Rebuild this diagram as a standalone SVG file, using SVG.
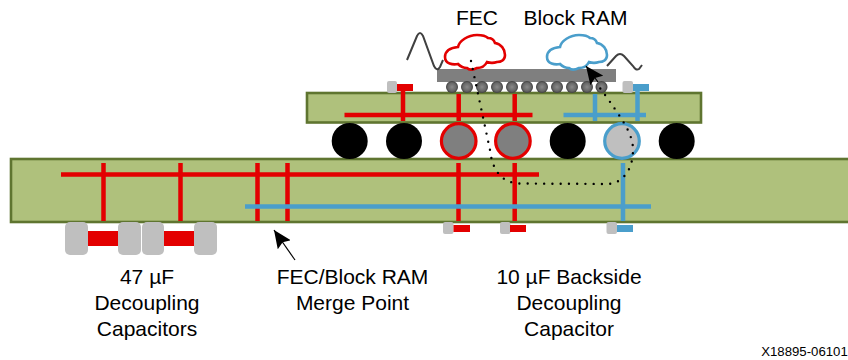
<svg xmlns="http://www.w3.org/2000/svg" width="848" height="360" viewBox="0 0 848 360">
<style>
text{font-family:"Liberation Sans",Arial,sans-serif;font-size:21px;fill:#000;text-anchor:middle}
.board{fill:#afc17c;stroke:#5f7530;stroke-width:2.600}
.ball{fill:url(#bg)}
.pad{fill:#bfbfbf}
.r{stroke:#e30000;stroke-width:4.500;fill:none}
.b{stroke:#4a9ecb;stroke-width:4.500;fill:none}
.rf{fill:#e30000}.bf{fill:#4a9ecb}
.wave{fill:none;stroke:#404040;stroke-width:2}
.cloud{fill:#fff;stroke-width:2.600}
.dot{fill:none;stroke:#000;stroke-width:2.400;stroke-linecap:round;stroke-dasharray:0 8.250}
</style>
<defs>
<radialGradient id="bg"><stop offset="0" stop-color="#8a8a8a"/><stop offset="0.7" stop-color="#666666"/><stop offset="1" stop-color="#3c3c3c"/></radialGradient>
<marker id="ah" markerUnits="userSpaceOnUse" markerWidth="19" markerHeight="16" refX="18" refY="8" orient="auto"><path d="M0 0L18 8L0 16L3 8Z" fill="#000"/></marker>
<path id="cl" d="M0 22C0 17 4 13 13 12C14 6 23 0 32 0C37 0 41 1 43 3C46 3 49 5 50 8C56 9 60 14 60 20C60 25 56 27 52 27C49 28 45 28 42 27C40 31 36 33 32 33C28 35 24 35 22 33C18 33 15 31 13 29C8 30 0 29 0 22Z"/>
</defs>
<g id="pcb-lower"><rect class="board" x="11" y="159" width="850" height="63"/></g>
<g id="pcb-upper"><rect class="board" x="307" y="93" width="394" height="29.500"/></g>
<g id="traces">
<path class="r" d="M344.500 115H532.500M403 90V121M458.700 94V121M514.700 94V121"/>
<path class="b" d="M563.500 115H646M595 94V121M637.500 90V121"/>
<path class="r" d="M61 174.500H539M103.500 163V221M180.500 163V221M257.500 163V221M287.500 163V221M458.500 163V221M514.700 163V221"/>
<path class="b" d="M245 206.500H651M623 163V221"/>
</g>
<g id="bga">
<circle cx="349.700" cy="141" r="18"/><circle cx="404" cy="141" r="18"/>
<circle cx="458.700" cy="141" r="17.300" fill="#7f7f7f" stroke="#e30000" stroke-width="3.200"/>
<circle cx="512.900" cy="141" r="17.300" fill="#7f7f7f" stroke="#e30000" stroke-width="3.200"/>
<circle cx="567.700" cy="141" r="18"/>
<circle cx="622" cy="141" r="17.300" fill="#bfbfbf" stroke="#4a9ecb" stroke-width="3.200"/>
<circle cx="676.700" cy="141" r="18"/>
</g>
<g id="chip">
<rect x="437" y="69" width="179" height="13" fill="#7f7f7f"/>
<circle class="ball" cx="452" cy="87" r="6"/><circle class="ball" cx="467" cy="87" r="6"/><circle class="ball" cx="482" cy="87" r="6"/><circle class="ball" cx="497" cy="87" r="6"/><circle class="ball" cx="512" cy="87" r="6"/><circle class="ball" cx="527" cy="87" r="6"/><circle class="ball" cx="542" cy="87" r="6"/><circle class="ball" cx="557" cy="87" r="6"/><circle class="ball" cx="572" cy="87" r="6"/><circle class="ball" cx="587" cy="87" r="6"/><circle class="ball" cx="601.500" cy="87" r="6"/>
</g>
<g id="fec">
<use href="#cl" x="445" y="35" class="cloud" stroke="#e30000"/>
<text x="477" y="25">FEC</text>
</g>
<g id="block-ram">
<use href="#cl" x="547" y="35" class="cloud" stroke="#4a9ecb"/>
<text x="575.500" y="25">Block RAM</text>
</g>
<g id="waves">
<path class="wave" d="M407 60L417 36Q420 30 423 36L434 66Q437 72 440 67L443 60"/>
<path class="wave" d="M607 66L616 56Q620 52 624 56L633 66Q636 71 639 69L642 65"/>
</g>
<g id="small-caps">
<rect class="pad" x="387" y="81" width="10" height="12" rx="2"/><rect class="rf" x="397" y="84" width="16" height="7"/>
<rect class="pad" x="622.500" y="81" width="10.500" height="12" rx="2"/><rect class="bf" x="633" y="84" width="16" height="7"/>
<rect class="pad" x="443" y="222" width="10.500" height="12" rx="2"/><rect class="rf" x="453.500" y="225" width="16.500" height="7"/>
<rect class="pad" x="500" y="222" width="10.500" height="12" rx="2"/><rect class="rf" x="510" y="225" width="16" height="7"/>
<rect class="pad" x="606.500" y="222" width="10.500" height="12" rx="2"/><rect class="bf" x="617" y="225" width="16" height="7"/>
</g>
<g id="decoupling-caps">
<rect class="rf" x="88" y="231" width="30" height="15"/><rect class="rf" x="164" y="231" width="30" height="15"/>
<rect class="pad" x="65" y="222" width="23" height="33" rx="5"/><rect class="pad" x="118" y="222" width="23" height="33" rx="5"/><rect class="pad" x="142" y="222" width="22" height="33" rx="5"/><rect class="pad" x="194" y="222" width="23" height="33" rx="5"/>
</g>
<g id="connectors">
<path class="dot" d="M471 61L490 150C492 168 500 183 520 183.500L608 184C624 183 633 168 633 150C633 135 625 122 597 84"/>
<path d="M598 82L586 66" fill="none" stroke="#000" stroke-width="1.200" marker-end="url(#ah)"/>
<path d="M295 260L274 230" fill="none" stroke="#000" stroke-width="1.200" marker-end="url(#ah)"/>
</g>
<g id="labels">
<text x="147" y="284">47 µF</text><text x="147" y="310">Decoupling</text><text x="147" y="336">Capacitors</text>
<text x="352.500" y="284">FEC/Block RAM</text><text x="352.500" y="310">Merge Point</text>
<text x="569" y="284">10 µF Backside</text><text x="569" y="310">Decoupling</text><text x="569" y="336">Capacitor</text>
<text x="804.500" y="356" style="font-size:13.200px">X18895-06101</text>
</g>
</svg>
